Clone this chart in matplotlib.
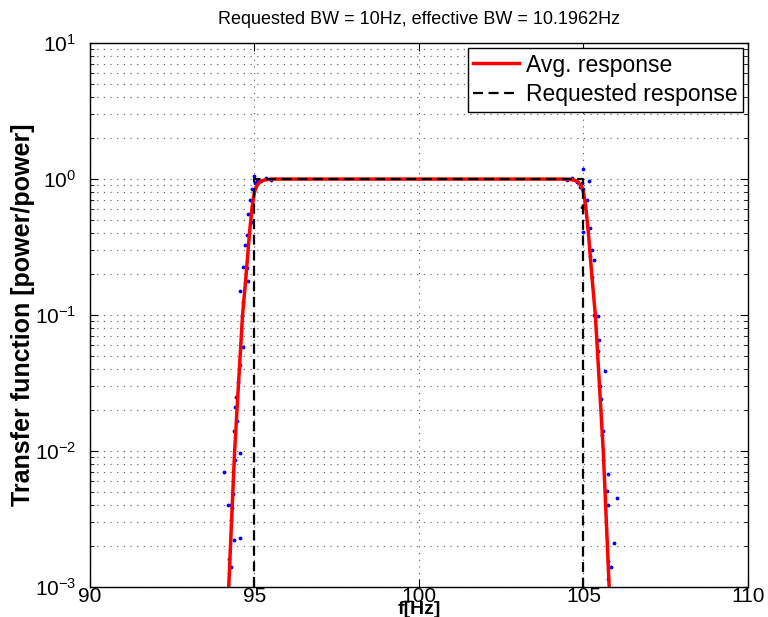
import numpy as np
import matplotlib
matplotlib.use("Agg")
import matplotlib.pyplot as plt

plt.rcParams['font.family'] = ['Liberation Sans', 'DejaVu Sans']

# averaged response (red)
avg_f = [94.14, 94.22, 94.31, 94.40, 94.52, 94.64, 94.75, 94.85, 94.93, 95.00, 95.08,
         95.18, 95.30, 95.45, 95.60, 96.5, 98.0, 100.0, 102.0, 103.5,
         104.40, 104.55, 104.70, 104.82, 104.92, 105.00, 105.07, 105.15, 105.25,
         105.36, 105.48, 105.60, 105.69, 105.78, 105.86]
avg_h = [5e-4, 1e-3, 3.2e-3, 1e-2, 3.2e-2, 0.1, 0.2, 0.4, 0.62, 0.8, 0.9,
         0.96, 0.985, 0.997, 1.0, 1.0, 1.0, 1.0, 1.0, 1.0,
         1.0, 0.997, 0.985, 0.96, 0.9, 0.8, 0.62, 0.4, 0.2,
         0.1, 3.2e-2, 1e-2, 3.2e-3, 1e-3, 5e-4]

# requested (ideal) response
req_f = [95, 95, 105, 105]
req_h = [1e-4, 1, 1, 1e-4]

# individual estimates (blue dots)
dots_f = [94.98, 95.09, 94.93, 94.87, 94.82, 94.93, 94.77, 94.71, 94.66, 94.77,
          94.82, 94.55, 94.64, 94.61, 94.66, 94.55, 94.50, 94.45, 94.42, 94.47,
          94.39, 94.57, 94.42, 94.07, 94.34, 94.29, 94.21, 94.32, 94.29, 94.39,
          94.55, 94.23, 94.29, 95.20, 95.35, 95.50, 95.03,
          105.00, 105.16, 104.95, 105.00, 104.95, 105.11, 105.00, 105.21, 105.27, 105.19,
          105.32, 105.27, 105.32, 105.43, 105.48, 105.45, 105.64, 105.51, 105.53, 105.59,
          105.55, 105.59, 105.75, 106.01, 105.72, 105.75, 105.94, 105.75, 105.83, 105.75,
          104.80, 104.65, 104.50, 104.90]
dots_h = [1.05, 0.97, 0.84, 0.70, 0.55, 0.48, 0.39, 0.33, 0.226, 0.22,
          0.179, 0.149, 0.125, 0.099, 0.058, 0.043, 0.032, 0.025, 0.021, 0.0166,
          0.0139, 0.0097, 0.0086, 0.0070, 0.0048, 0.0040, 0.0040, 0.0038, 0.0031, 0.0022,
          0.0023, 0.0016, 0.0014, 0.97, 1.01, 0.99, 0.93,
          1.19, 0.97, 0.94, 0.84, 0.62, 0.70, 0.41, 0.44, 0.30, 0.27,
          0.255, 0.19, 0.10, 0.098, 0.065, 0.054, 0.039, 0.030, 0.024, 0.0139,
          0.0131, 0.0086, 0.0068, 0.0045, 0.0051, 0.0040, 0.0021, 0.00155, 0.0014, 0.00115,
          0.95, 1.02, 0.99, 0.88]

title = "Requested BW = 10Hz, effective BW = 10.1962Hz"

fig = plt.figure(figsize=(7.68, 6.17), dpi=100)
ax = fig.add_axes([0.117, 0.049, 0.857, 0.881])

ax.plot(dots_f, dots_h, '.', color='blue', markersize=3.5, zorder=2)
ax.plot(avg_f, avg_h, '-', color='red', linewidth=2.5, label='Avg. response', zorder=3)
ax.plot(req_f, req_h, '--', color='black', linewidth=1.6, dashes=(4.5, 2.5),
        label='Requested response', zorder=4)

ax.set_yscale('log')
ax.set_xlim(90, 110)
ax.set_ylim(1e-3, 10)
ax.set_xticks([90, 95, 100, 105, 110])

ax.grid(True, which='major', axis='both', linestyle=(0, (1, 5)), color='0.35', linewidth=0.8)
ax.grid(True, which='minor', axis='y', linestyle=(0, (1, 5)), color='0.35', linewidth=0.8)
ax.tick_params(which='both', direction='in', top=True, right=True, labelsize=15)
ax.tick_params(which='major', length=6)
ax.tick_params(which='minor', length=3)
ax.tick_params(axis='x', pad=0)
ax.tick_params(axis='y', pad=10)
for s in ax.spines.values():
    s.set_linewidth(1.0)

ax.set_xlabel('f[Hz]', fontsize=14, fontweight='bold', va='baseline')
ax.xaxis.set_label_coords(0.5, -0.0495)
ax.set_ylabel('Transfer function [power/power]', fontsize=18, fontweight='bold')
ax.yaxis.set_label_coords(-0.083, 0.5)
ax.set_title(title, fontsize=13, pad=14)

leg = ax.legend(loc='upper right', fontsize=16.5, fancybox=False, framealpha=1,
                edgecolor='black', borderaxespad=0.2, handlelength=2.0,
                handletextpad=0.3, borderpad=0.25, labelspacing=0.3)
leg.get_frame().set_linewidth(1.0)

fig.savefig('out.png', dpi=100)
